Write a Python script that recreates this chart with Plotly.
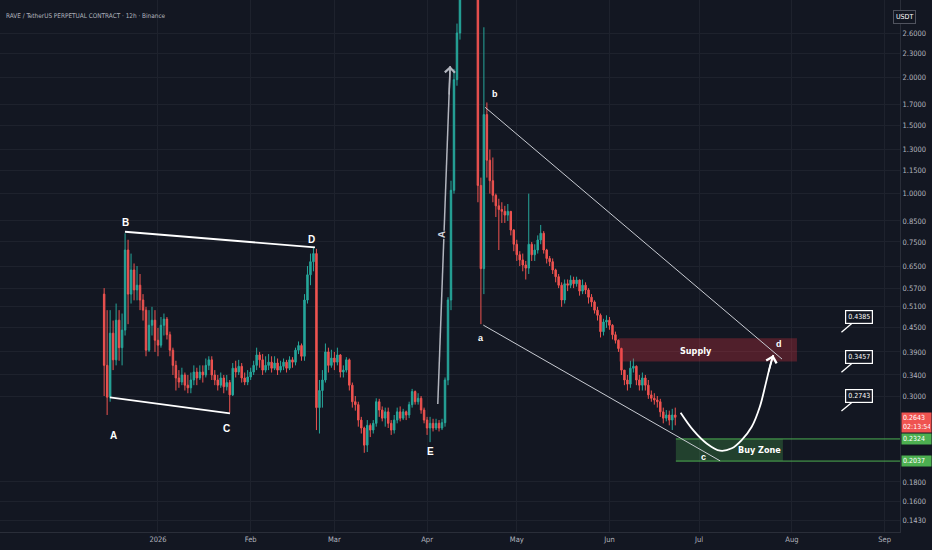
import numpy as np
import pandas as pd
import plotly.graph_objects as go

BG = "#131722"
GRID = "#1e222d"
TEXT = "#b2b5be"
UP = "#26a69a"
DOWN = "#ef5350"
FONT = "Liberation Sans Narrow, DejaVu Sans Condensed, Liberation Sans, sans-serif"

# --- candles: daily bars, 14 Dec 2025 -> 23 Jun 2026 ---
first_day = "2025-12-14"
first_open = 0.55
closes = [
    # Dec 14-31
    .36, .298, .436, .372, .471, .40, .444, .715, .55, .635, .564, .58, .531, .50, .394, .457, .471, .418,
    # Jan
    .406, .457, .474, .432, .394, .36, .334, .326, .34, .32,
    .315, .33, .346, .334, .346, .34, .36, .372, .34, .33,
    .32, .334, .317, .325, .302, .354, .346, .358, .334, .326, .336,
    # Feb
    .346, .36, .383, .372, .35, .36, .367, .354, .365, .35,
    .358, .367, .354, .372, .367, .394, .405, .38, .531, .617,
    .667, .70, .28, .31, .33, .39, .36, .376,
    # Mar
    .367, .383, .346, .35, .372, .32, .29, .285, .26, .248,
    .224, .252, .245, .255, .29, .276, .263, .273, .255, .245,
    .26, .273, .263, .273, .268, .285, .308, .29, .296, .276, .26,
    # Apr
    .248, .255, .248, .255, .248, .256, .33, .531, 1.02, 1.97,
    2.6, 3.3, 3.8, 4.0, 3.7, 3.5, 3.3, 1.05, .64, 1.6,
    1.22, 1.08, .99, .93, .91, .90, .88, .90, .805, .74,
    # May
    .695, .674, .654, .642, .74, .695, .715, .759, .79, .715,
    .68, .667, .635, .61, .58, .531, .585, .58, .598, .585,
    .598, .56, .58, .564, .54, .525, .50, .485, .44, .466, .471,
    # Jun 1-23
    .457, .432, .418, .398, .35, .33, .322, .354, .358, .33,
    .32, .334, .32, .302, .296, .293, .29, .273, .263, .268,
    .26, .268, .2643,
]
highs = [
    .57, .50, .50, .47, .52, .50, .49, .79, .76, .70, .66, .65, .62, .55, .51, .50, .51, .50,
    .45, .48, .49, .48, .44, .40, .37, .35, .355, .345,
    .34, .345, .36, .355, .36, .36, .375, .38, .38, .35,
    .34, .345, .34, .34, .33, .365, .37, .372, .365, .345, .35,
    .355, .37, .40, .39, .385, .38, .385, .38, .38, .375,
    .37, .375, .372, .38, .378, .40, .415, .41, .55, .65,
    .70, .726, .72, .33, .35, .41, .40, .395,
    .39, .40, .385, .36, .378, .375, .325, .30, .29, .265,
    .25, .26, .255, .26, .296, .295, .282, .28, .28, .26,
    .268, .28, .282, .278, .275, .29, .313, .31, .305, .30, .28,
    .265, .265, .262, .262, .26, .262, .335, .54, 1.08, 2.1,
    2.75, 3.6, 4.2, 4.5, 4.3, 4.0, 3.9, 3.5, 1.1, 2.69,
    1.72, 1.3, 1.24, 1.0, .97, .95, .93, .94, .90, .81,
    .76, .71, .70, .67, 1.0, .75, .74, .78, .83, .80,
    .72, .69, .68, .64, .62, .59, .60, .60, .615, .61,
    .61, .60, .60, .59, .57, .55, .53, .51, .49, .475, .485,
    .48, .46, .44, .42, .40, .35, .34, .37, .375, .36,
    .34, .345, .34, .33, .31, .305, .30, .295, .28, .276,
    .275, .278, .28,
]
lows = [
    .30, .268, .29, .35, .36, .37, .36, .43, .46, .52, .53, .53, .50, .47, .38, .39, .43, .39,
    .38, .40, .43, .42, .38, .34, .31, .315, .32, .31,
    .305, .305, .32, .32, .33, .325, .335, .35, .33, .32,
    .31, .315, .305, .31, .272, .30, .335, .34, .325, .32, .32,
    .33, .34, .35, .355, .34, .345, .35, .345, .35, .34,
    .345, .35, .345, .35, .355, .36, .385, .37, .37, .52,
    .58, .63, .245, .24, .28, .325, .345, .355,
    .35, .36, .335, .335, .345, .31, .28, .275, .25, .24,
    .214, .215, .235, .24, .25, .265, .258, .25, .248, .238,
    .24, .255, .258, .26, .26, .263, .28, .285, .285, .27, .255,
    .238, .228, .243, .245, .243, .245, .25, .32, .50, 1.0,
    1.9, 2.5, 3.2, 3.4, 3.3, 3.2, 3.2, .95, .46, .55,
    1.1, 1.0, .95, .87, .715, .84, .84, .85, .78, .71,
    .67, .65, .63, .60, .62, .67, .67, .70, .74, .70,
    .66, .65, .62, .59, .57, .51, .52, .56, .57, .57,
    .575, .545, .55, .55, .52, .51, .49, .47, .425, .43, .45,
    .445, .42, .41, .39, .34, .32, .31, .315, .345, .32,
    .31, .31, .31, .295, .29, .285, .28, .265, .255, .258,
    .252, .245, .252,
]

# --- axes ---
price_ticks = [2.6, 2.3, 2.0, 1.7, 1.5, 1.3, 1.15, 1.0, 0.85, 0.75, 0.65, 0.57,
               0.51, 0.45, 0.39, 0.34, 0.30, 0.18, 0.16, 0.143]
month_ticks = ["2026-01-01", "2026-02-01", "2026-03-01", "2026-04-01", "2026-05-01",
               "2026-06-01", "2026-07-01", "2026-08-01", "2026-09-01"]
month_labels = ["2026", "Feb", "Mar", "Apr", "May", "Jun", "Jul", "Aug", "Sep"]
x_range = ["2025-11-09 04:00", "2026-09-06 04:00"]
y_range = [0.1336, 3.164]

last_price = 0.2643
countdown = "02:13:54"

# --- drawings ---
ac_dates = ["2025-12-15 22:00", "2026-01-25 02:00"]
ac_prices = [0.2977, 0.2705]
bd_dates = ["2025-12-20 23:00", "2026-02-22 12:00"]
bd_prices = [0.797, 0.7266]
pump_dates = ["2026-04-04 14:00", "2026-04-08 17:00"]
pump_prices = [0.286, 2.137]
upper_dates = ["2026-04-20 10:00", "2026-07-28 17:00"]
upper_prices = [1.671, 0.3737]
lower_dates = ["2026-04-19 19:00", "2026-07-08 00:00"]
lower_prices = [0.4575, 0.204]

supply_dates = ["2026-06-04 05:00", "2026-08-02 17:00"]
supply_prices = [0.3683, 0.4228]
buy_dates = ["2026-06-23 05:00", "2026-07-29 00:00"]
buy_prices = [0.2037, 0.2324]

path_dates = ["2026-06-24 19:00", "2026-06-29 00:00", "2026-07-03 12:00", "2026-07-08 00:00",
              "2026-07-11 22:00", "2026-07-15 05:00", "2026-07-18 14:00", "2026-07-21 07:00",
              "2026-07-23 07:00", "2026-07-24 22:00", "2026-07-25 19:00"]
path_prices = [0.2716, 0.2449, 0.2263, 0.2167, 0.2198, 0.2308, 0.2498, 0.2814,
               0.3234, 0.3642, 0.3828]

callout_date = "2026-08-17 14:00"
callout_prices = [0.4385, 0.3457, 0.2743]

wave_labels = ["A", "B", "C", "D", "E", "a", "b", "c", "d"]
wave_dates = ["2025-12-17 05:00", "2025-12-21 02:00", "2026-01-24 02:00", "2026-02-21 05:00",
              "2026-04-02 00:00", "2026-04-19 00:00", "2026-04-23 17:00", "2026-07-02 14:00",
              "2026-07-27 17:00"]
wave_prices = [0.2377, 0.841, 0.2479, 0.763, 0.2154, 0.4228, 1.809, 0.2087, 0.4088]

dates = pd.date_range(first_day, periods=len(closes), freq="D")
opens = [first_open] + closes[:-1]

fig = go.Figure()


def zone(xs, ys, color):
    fig.add_trace(go.Scatter(
        x=[xs[0], xs[1], xs[1], xs[0], xs[0]], y=[ys[0], ys[0], ys[1], ys[1], ys[0]],
        mode="lines", fill="toself", fillcolor=color, line=dict(width=0),
        hoverinfo="skip", showlegend=False))


def seg(xs, ys, color, width, shape="linear"):
    fig.add_trace(go.Scatter(x=xs, y=ys, mode="lines",
                             line=dict(color=color, width=width, shape=shape),
                             hoverinfo="skip", showlegend=False))


zone(supply_dates, supply_prices, "rgba(242,54,69,0.28)")
zone(buy_dates, buy_prices, "rgba(76,175,80,0.28)")

fig.add_trace(go.Candlestick(
    x=dates, open=opens, high=highs, low=lows, close=closes,
    increasing=dict(line=dict(color=UP, width=1), fillcolor=UP),
    decreasing=dict(line=dict(color=DOWN, width=1), fillcolor=DOWN),
    whiskerwidth=0, showlegend=False, hoverinfo="skip"))

# buy zone edges run out to the price scale
for p in buy_prices:
    seg([buy_dates[0], x_range[1]], [p, p], "#4caf50", 1)

seg(ac_dates, ac_prices, "#ffffff", 1.8)
seg(bd_dates, bd_prices, "#ffffff", 1.8)
seg(upper_dates, upper_prices, "#c9ccd3", 1)
seg(lower_dates, lower_prices, "#c9ccd3", 1)
seg(pump_dates, pump_prices, "#b2b5be", 1.5)
seg(path_dates, path_prices, "#ffffff", 1.8, "spline")

ann = []
for t, d, p in zip(wave_labels, wave_dates, wave_prices):
    ann.append(dict(x=d, y=np.log10(p), text=t, showarrow=False,
                    font=dict(family="Liberation Sans, sans-serif", color="#ffffff",
                              size=10 if t.isupper() else 9, weight="bold")))

# label sitting on the pump arrow
ann.append(dict(x="2026-04-05 16:00", y=np.log10(0.7816), text="A", showarrow=False,
                textangle=-87, bgcolor=BG, borderpad=0,
                font=dict(family="Liberation Sans, sans-serif", color="#d1d4dc",
                          size=10, weight="bold")))

# arrow heads
ann.append(dict(x=pump_dates[1], y=np.log10(pump_prices[1]), text="", showarrow=True,
                arrowhead=4, arrowsize=1.3, arrowwidth=1.5, arrowcolor="#b2b5be",
                ax=-1, ay=30))
ann.append(dict(x=path_dates[-1], y=np.log10(path_prices[-1]), text="", showarrow=True,
                arrowhead=4, arrowsize=1.3, arrowwidth=1.6, arrowcolor="#ffffff",
                ax=-5, ay=18))

ann.append(dict(x="2026-06-29 22:00", y=np.log10(0.3926), text="Supply", showarrow=False,
                font=dict(color="#ffffff", size=9, weight="bold")))
ann.append(dict(x="2026-07-21 07:00", y=np.log10(0.2176), text="Buy Zone", showarrow=False,
                font=dict(color="#ffffff", size=9, weight="bold")))

for p in callout_prices:
    ann.append(dict(x=callout_date, y=np.log10(p), text=f"{p:.4f}", showarrow=True,
                    arrowhead=0, arrowwidth=1.3, arrowcolor="#ffffff", ax=18, ay=-15,
                    bgcolor=BG, bordercolor="#ffffff", borderwidth=1.2, borderpad=2,
                    font=dict(color="#ffffff", size=7)))

# title and price-scale labels
ann.append(dict(xref="paper", yref="paper", x=0.004, y=0.981, xanchor="left",
                text="RAVE / TetherUS PERPETUAL CONTRACT · 12h · Binance", showarrow=False,
                font=dict(size=6.4, color=TEXT)))
ann.append(dict(xref="paper", yref="paper", x=1.0176, y=0.981, text="USDT", showarrow=False,
                bgcolor=BG, bordercolor="#50535e", borderwidth=1, borderpad=2,
                font=dict(size=7, color="#ffffff")))
ann.append(dict(xref="paper", yref="y", x=1.001, y=np.log10(last_price), xanchor="left",
                yanchor="top", yshift=5, width=27, align="left",
                text=f"{last_price:.4f}<br>{countdown}", showarrow=False,
                bgcolor=DOWN, borderpad=1, font=dict(size=7, color="#ffffff")))
for p in buy_prices:
    ann.append(dict(xref="paper", yref="y", x=1.001, y=np.log10(p), xanchor="left",
                    width=27, align="left", text=f"{p:.4f}", showarrow=False,
                    bgcolor="#4caf50", borderpad=1, font=dict(size=7, color="#ffffff")))

fig.update_layout(
    width=932, height=550,
    margin=dict(l=0, r=32, t=0, b=18, autoexpand=False),
    paper_bgcolor=BG, plot_bgcolor=BG,
    showlegend=False,
    font=dict(family=FONT, color=TEXT, size=8),
    annotations=ann,
    xaxis=dict(type="date", range=x_range, rangeslider=dict(visible=False),
               tickvals=month_ticks, ticktext=month_labels, showgrid=True,
               gridcolor=GRID, zeroline=False, showline=True, linecolor="#2a2e39",
               tickfont=dict(size=7.5, color=TEXT), fixedrange=True),
    yaxis=dict(type="log", range=[np.log10(y_range[0]), np.log10(y_range[1])],
               side="right", tickvals=price_ticks,
               ticktext=[f"{p:.4f}" for p in price_ticks],
               showgrid=True, gridcolor=GRID, zeroline=False, showline=True,
               linecolor="#2a2e39", tickfont=dict(size=7.5, color=TEXT), fixedrange=True),
)

fig.write_html("out.html", config={"displayModeBar": False},
               post_script="document.body.style.margin='0';")
